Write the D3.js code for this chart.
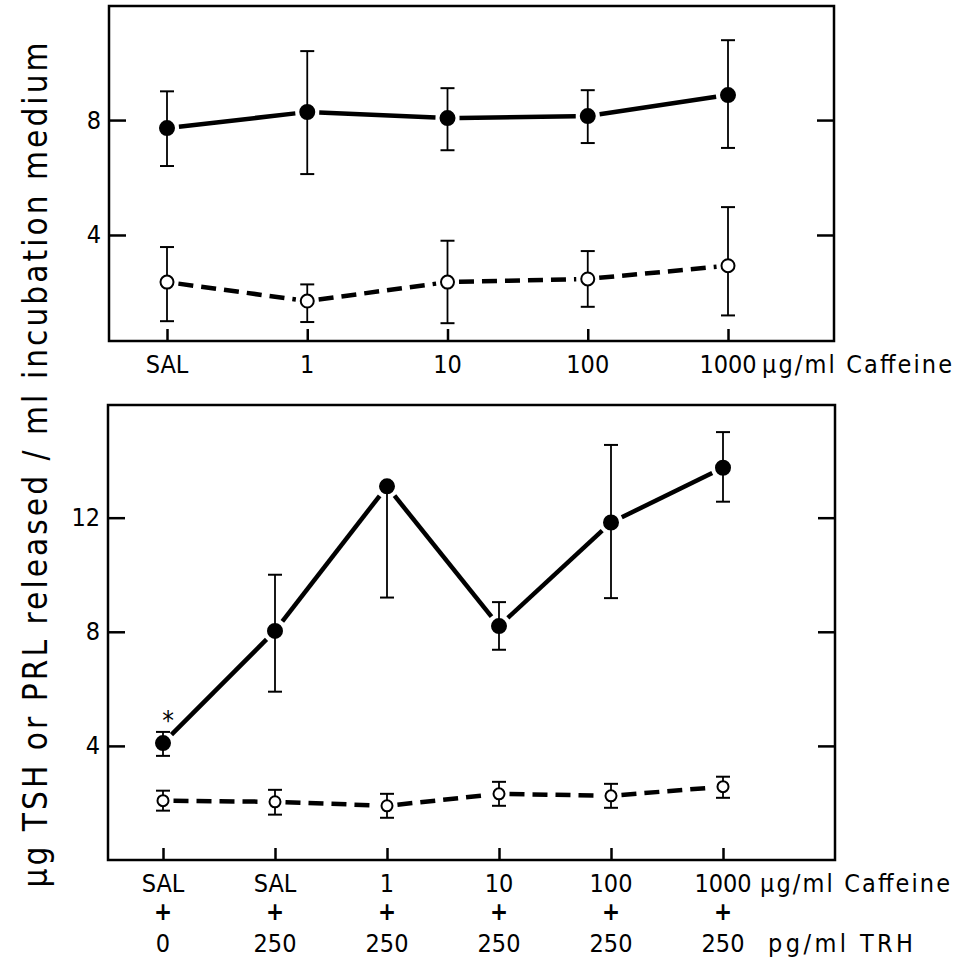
<!DOCTYPE html>
<html>
<head>
<meta charset="utf-8">
<script src="https://cdn.jsdelivr.net/npm/d3@7"></script>
<style>
  body { margin: 0; background: #fff; }
  svg text { font-family: "DejaVu Sans Condensed", "DejaVu Sans", sans-serif; font-stretch: condensed; fill: #000; }
</style>
</head>
<body>
<div id="chart"></div>
<script>
// 上段: カフェインのみ
var topCats = ['SAL', '1', '10', '100', '1000'];
var topTSH = [7.72, 8.28, 8.07, 8.14, 8.87];
var topTSHLo = [6.4, 6.12, 6.95, 7.2, 7.03];
var topTSHHi = [9.0, 10.4, 9.11, 9.04, 10.78];
var topPRL = [2.36, 1.7, 2.36, 2.47, 2.93];
var topPRLLo = [1.0, 0.97, 0.93, 1.5, 1.2];
var topPRLHi = [3.58, 2.28, 3.8, 3.44, 4.97];
var topTicks = [4, 8];

// 下段: カフェイン + TRH
var botCaffeine = ['SAL', 'SAL', '1', '10', '100', '1000'];
var botTRH = ['0', '250', '250', '250', '250', '250'];
var botTSH = [4.1, 8.03, 13.1, 8.2, 11.83, 13.75];
var botTSHLo = [3.65, 5.9, 9.2, 7.37, 9.18, 12.56];
var botTSHHi = [4.49, 10.0, null, 9.04, 14.55, 15.0];
var botPRL = [2.08, 2.04, 1.9, 2.32, 2.25, 2.57];
var botPRLLo = [1.73, 1.59, 1.48, 1.9, 1.83, 2.18];
var botPRLHi = [2.43, 2.46, 2.32, 2.74, 2.67, 2.92];
var botTicks = [4, 8, 12];

var width = 959, height = 959;
var svg = d3.select('#chart').append('svg')
  .attr('width', width).attr('height', height);

// パネルを描く関数
function panel(opt) {
  var x = d3.scalePoint().domain(d3.range(opt.n)).range(opt.xr);
  var y = d3.scaleLinear().domain(opt.yd).range([opt.bottom, opt.top]);
  var g = svg.append('g');

  // 枠
  g.append('rect')
    .attr('x', opt.left).attr('y', opt.top)
    .attr('width', opt.right - opt.left).attr('height', opt.bottom - opt.top)
    .attr('fill', 'none').attr('stroke', '#000').attr('stroke-width', 2.5);

  // 左の軸
  var ax = g.append('g').attr('transform', 'translate(' + opt.left + ',0)')
    .call(d3.axisLeft(y).tickValues(opt.ticks).tickSize(-17).tickPadding(8).tickFormat(d3.format('d')));
  ax.select('.domain').remove();
  ax.selectAll('line').attr('stroke-width', 2.5);
  ax.selectAll('text').style('font-size', '25px').attr('font-family', null);

  // 右の軸
  var axr = g.append('g').attr('transform', 'translate(' + opt.right + ',0)')
    .call(d3.axisRight(y).tickValues(opt.ticks).tickSize(-17).tickFormat(''));
  axr.select('.domain').remove();
  axr.selectAll('line').attr('stroke-width', 2.5);

  // 下の軸
  var axb = g.append('g').attr('transform', 'translate(0,' + opt.bottom + ')')
    .call(d3.axisBottom(x).tickSize(-12).tickFormat(''));
  axb.select('.domain').remove();
  axb.selectAll('line').attr('stroke-width', 2.5);

  // 系列
  opt.series.forEach(function(s) {
    var pts = s.v.map(function(v, i) { return [x(i), y(v)]; });
    // マーカーの手前で線を切る
    for (var i = 0; i < pts.length - 1; i++) {
      var a = pts[i], b = pts[i + 1];
      var dx = b[0] - a[0], dy = b[1] - a[1];
      var len = Math.sqrt(dx * dx + dy * dy);
      var gap = s.r + 5;
      g.append('line')
        .attr('x1', a[0] + dx * gap / len).attr('y1', a[1] + dy * gap / len)
        .attr('x2', b[0] - dx * gap / len).attr('y2', b[1] - dy * gap / len)
        .attr('stroke', '#000').attr('stroke-width', 4.5)
        .attr('stroke-dasharray', s.dash ? '15,8' : null);
    }
    // 誤差棒
    s.v.forEach(function(v, i) {
      var cx = x(i);
      var hi = s.hi[i] == null ? v : s.hi[i];
      var lo = s.lo[i] == null ? v : s.lo[i];
      g.append('line').attr('x1', cx).attr('x2', cx)
        .attr('y1', y(hi)).attr('y2', y(lo))
        .attr('stroke', '#000').attr('stroke-width', 1.8);
      if (s.hi[i] != null) {
        g.append('line').attr('x1', cx - 7).attr('x2', cx + 7)
          .attr('y1', y(hi)).attr('y2', y(hi))
          .attr('stroke', '#000').attr('stroke-width', 2);
      }
      if (s.lo[i] != null) {
        g.append('line').attr('x1', cx - 7).attr('x2', cx + 7)
          .attr('y1', y(lo)).attr('y2', y(lo))
          .attr('stroke', '#000').attr('stroke-width', 2);
      }
    });
    g.selectAll(null).data(pts).enter()
      .append('circle')
      .attr('cx', function(d) { return d[0]; })
      .attr('cy', function(d) { return d[1]; })
      .attr('r', s.r)
      .attr('fill', s.filled ? '#000' : '#fff')
      .attr('stroke', '#000').attr('stroke-width', 2);
  });

  return { x: x, y: y, g: g };
}

// 上段パネル
var p1 = panel({
  n: topCats.length, xr: [167, 728], yd: [0.31, 11.97],
  left: 109, right: 834, top: 6, bottom: 341, ticks: topTicks,
  series: [
    { v: topTSH, lo: topTSHLo, hi: topTSHHi, filled: true, dash: false, r: 7 },
    { v: topPRL, lo: topPRLLo, hi: topPRLHi, filled: false, dash: true, r: 6.5 }
  ]
});
p1.g.selectAll('.xlab').data(topCats).enter()
  .append('text')
  .attr('x', function(d, i) { return p1.x(i); })
  .attr('y', 373)
  .attr('text-anchor', 'middle')
  .style('font-size', '25px')
  .text(function(d) { return d; });
p1.g.append('text').attr('x', 762).attr('y', 373)
  .style('font-size', '25px').attr('textLength', 190).attr('lengthAdjust', 'spacing')
  .text('\u03bcg/ml Caffeine');

// 下段パネル
var p2 = panel({
  n: botCaffeine.length, xr: [163, 723], yd: [0, 15.95],
  left: 108, right: 835, top: 405, bottom: 860, ticks: botTicks,
  series: [
    { v: botTSH, lo: botTSHLo, hi: botTSHHi, filled: true, dash: false, r: 7 },
    { v: botPRL, lo: botPRLLo, hi: botPRLHi, filled: false, dash: true, r: 5.5 }
  ]
});
var xl = p2.g.selectAll('.xlab').data(botCaffeine).enter().append('g')
  .attr('transform', function(d, i) { return 'translate(' + p2.x(i) + ',0)'; });
xl.append('text').attr('y', 892).attr('text-anchor', 'middle')
  .style('font-size', '25px').text(function(d) { return d; });
xl.append('text').attr('y', 920).attr('text-anchor', 'middle')
  .style('font-size', '24px').style('font-weight', 'bold').text('+');
xl.append('text').attr('y', 952).attr('text-anchor', 'middle')
  .style('font-size', '25px').text(function(d, i) { return botTRH[i]; });
p2.g.append('text').attr('x', 760).attr('y', 892)
  .style('font-size', '25px').attr('textLength', 190).attr('lengthAdjust', 'spacing')
  .text('\u03bcg/ml Caffeine');
p2.g.append('text').attr('x', 768).attr('y', 952)
  .style('font-size', '25px').attr('textLength', 145).attr('lengthAdjust', 'spacing')
  .text('pg/ml TRH');
// 有意差の印
p2.g.append('text').attr('x', p2.x(0) + 5).attr('y', 730)
  .attr('text-anchor', 'middle').style('font-size', '26px').text('*');

// 縦軸ラベル
svg.append('text')
  .attr('transform', 'translate(47,465) rotate(-90)')
  .attr('text-anchor', 'middle')
  .style('font-size', '33px')
  .attr('textLength', 845).attr('lengthAdjust', 'spacing')
  .text('\u03bcg TSH or PRL released / ml incubation medium');
</script>
</body>
</html>
